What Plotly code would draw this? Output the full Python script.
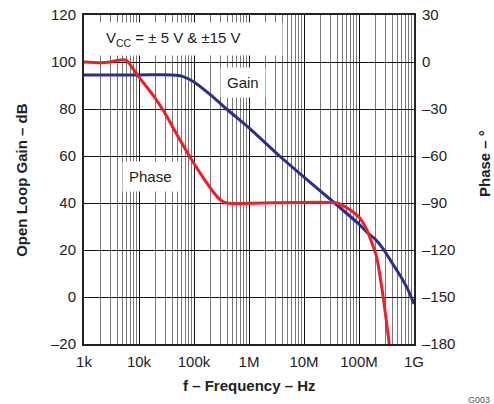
import plotly.graph_objects as go

# open loop gain (dB) vs frequency (Hz)
gain_freq = [1e3, 1e4, 4e4, 6e4, 1e5, 2e5, 3.9e5, 1e6, 3.6e6, 1e7, 3.6e7, 1e8, 1.4e8, 2e8, 2.75e8, 4e8, 6e8, 8e8, 1e9]
gain_db = [94.5, 94.5, 94.5, 94, 91.5, 86, 80, 72, 60, 51, 40, 31, 27.5, 24.5, 20.5, 14.5, 8, 2.5, -3]

# phase (degrees) vs frequency (Hz)
phase_freq = [1e3, 2e3, 3e3, 4e3, 5e3, 6e3, 7e3, 1e4, 1.87e4, 3e4, 5.6e4, 9.1e4, 1.48e5, 2.24e5,
              3e5, 4e5, 4e7, 6.9e7, 1e8, 1.38e8, 2.09e8, 2.75e8, 3.55e8]
phase_deg = [0, -0.5, 0, 1, 1.5, 1, -2, -9.6, -22, -33, -50, -62.5, -74, -83,
             -88, -90, -90, -94.5, -99, -107, -124.5, -150, -180]

x_ticks = [1e3, 1e4, 1e5, 1e6, 1e7, 1e8, 1e9]
x_labels = ["1k", "10k", "100k", "1M", "10M", "100M", "1G"]
y_ticks = [-20, 0, 20, 40, 60, 80, 100, 120]
y_labels = ["–20", "0", "20", "40", "60", "80", "100", "120"]
y2_ticks = [-180, -150, -120, -90, -60, -30, 0, 30]
y2_labels = ["–180", "–150", "–120", "–90", "–60", "–30", "0", "30"]

minor_x = [m * 10 ** e for e in range(3, 9) for m in range(2, 10)]

FONT = "Liberation Sans, Arial, Helvetica, sans-serif"
TXT = "#222222"

fig = go.Figure()
fig.add_trace(go.Scatter(
	x=gain_freq, y=gain_db, mode="lines",
	line=dict(color="#2B2E8C", width=3, shape="spline", smoothing=0.6),
	name="Gain",
))
fig.add_trace(go.Scatter(
	x=phase_freq, y=phase_deg, mode="lines", yaxis="y2",
	line=dict(color="#EE1F26", width=3, shape="spline", smoothing=0.6),
	name="Phase",
))

fig.update_layout(
	width=494,
	height=404,
	margin=dict(l=84, r=80, t=15, b=60),
	paper_bgcolor="white",
	plot_bgcolor="white",
	showlegend=False,
	font=dict(family=FONT, size=15, color=TXT),
	yaxis2=dict(
		overlaying="y",
		side="right",
		range=[-180, 30],
		tickvals=y2_ticks,
		ticktext=y2_labels,
		showgrid=False,
		zeroline=False,
		ticks="",
		ticklabelstandoff=3,
		showline=True,
		linecolor=TXT,
		linewidth=2,
		automargin=False,
	),
)
fig.update_xaxes(
	type="log",
	range=[3, 9],
	tickvals=x_ticks,
	ticktext=x_labels,
	showgrid=True,
	gridcolor="#111111",
	gridwidth=1,
	minor=dict(tickvals=minor_x, showgrid=True, gridcolor="#777777", gridwidth=1, ticks=""),
	ticks="",
	ticklabelstandoff=3,
	showline=True,
	linecolor=TXT,
	linewidth=2,
	mirror=True,
	zeroline=False,
	automargin=False,
)
fig.update_layout(yaxis=dict(
	range=[-20, 120],
	tickvals=y_ticks,
	ticktext=y_labels,
	showgrid=True,
	gridcolor="#111111",
	gridwidth=1,
	ticks="",
	ticklabelstandoff=3,
	showline=True,
	linecolor=TXT,
	linewidth=2,
	mirror=True,
	zeroline=False,
	automargin=False,
))

# axis titles
title_font = dict(size=15, weight="bold", color=TXT)
fig.add_annotation(
	x=0.5, y=-0.125, xref="paper", yref="paper", xanchor="center", yanchor="middle",
	text="f – Frequency – Hz", showarrow=False, font=title_font,
)
fig.add_annotation(
	x=-0.19, y=0.5, xref="paper", yref="paper", xanchor="center", yanchor="middle",
	text="Open Loop Gain – dB", showarrow=False, textangle=-90, font=title_font,
)
fig.add_annotation(
	x=1.212, y=0.55, xref="paper", yref="paper", xanchor="center", yanchor="middle",
	text="Phase – °", showarrow=False, textangle=-90, font=title_font,
)

# labels on white boxes that hide the grid
fig.add_annotation(
	x=0.324, y=0.927, xref="paper", yref="paper", xanchor="center", yanchor="middle",
	text="V<sub>CC</sub> = ± 5 V & ±15 V", showarrow=False, align="left",
	width=170, height=20, bgcolor="white", borderpad=6, font=dict(size=15),
)
fig.add_annotation(
	x=0.483, y=0.796, xref="paper", yref="paper", xanchor="center", yanchor="middle",
	text="Gain", showarrow=False,
	bgcolor="white", borderpad=6, font=dict(size=15),
)
fig.add_annotation(
	x=0.2, y=0.51, xref="paper", yref="paper", xanchor="center", yanchor="middle",
	text="Phase", showarrow=False,
	bgcolor="white", borderpad=6, font=dict(size=15),
)
fig.add_annotation(
	x=1.197, y=-0.17, xref="paper", yref="paper", xanchor="center", yanchor="middle",
	text="G003", showarrow=False, font=dict(size=9, color="#555555"),
)

# drop the browser's default body margin so the figure sits at the page corner
fig.write_html(
	"out.html",
	config={"displayModeBar": False},
	post_script="document.body.style.margin='0';",
)
